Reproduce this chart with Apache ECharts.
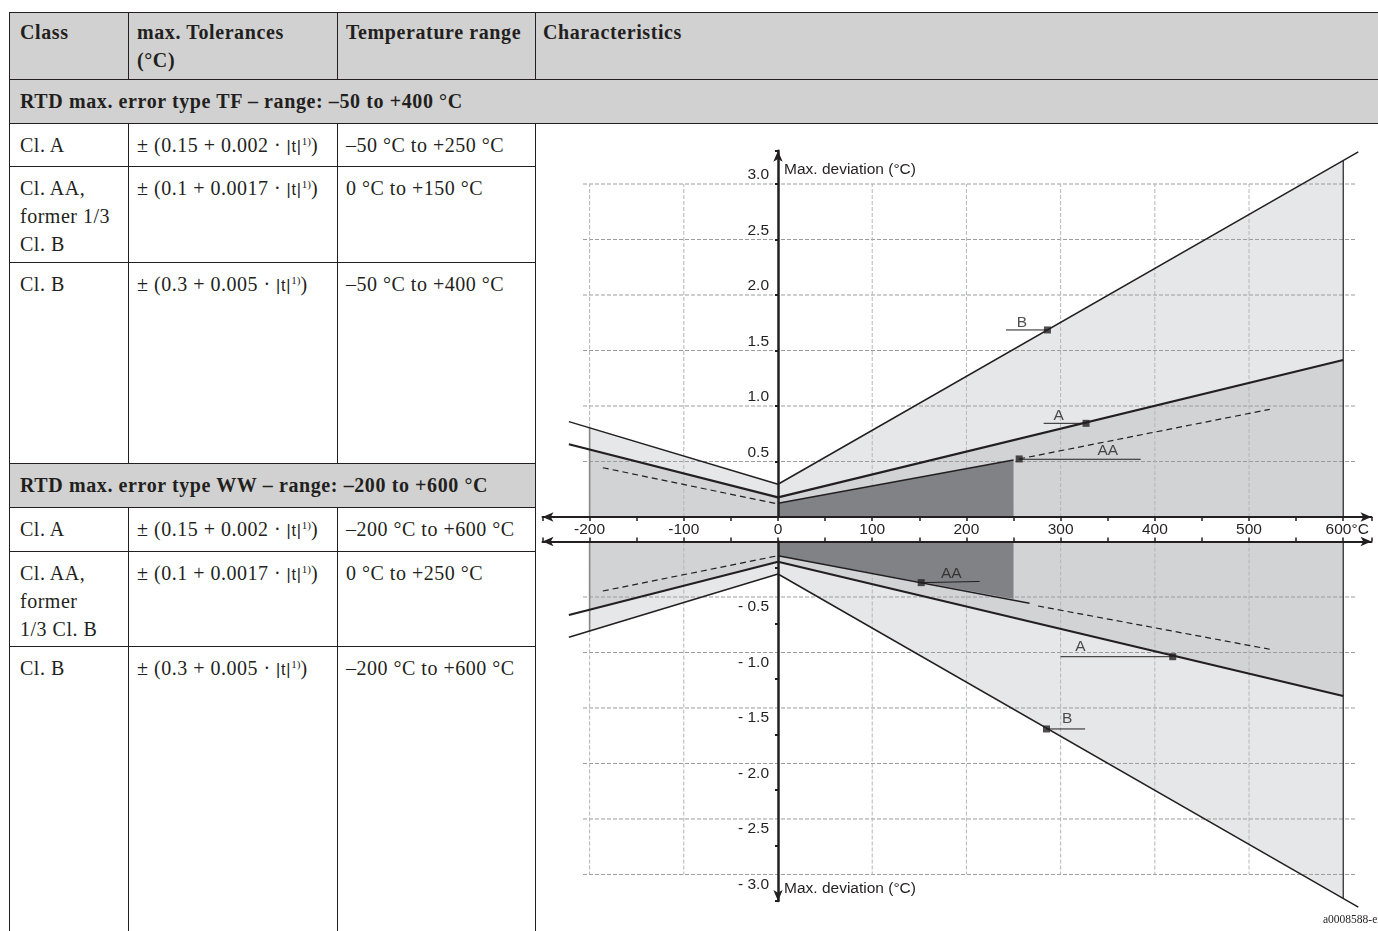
<!DOCTYPE html>
<html><head><meta charset="utf-8">
<script src="https://cdn.jsdelivr.net/npm/echarts@6/dist/echarts.min.js"></script>
<style>
html,body{margin:0;padding:0;background:#fff;width:1378px;height:931px;overflow:hidden;}
#page{position:relative;width:1378px;height:931px;font-family:"Liberation Serif","DejaVu Serif",serif;color:#231f20;overflow:hidden;}
.bg{position:absolute;background:#d1d1d1;}
.hl{position:absolute;height:1px;background:#231f20;}
.vl{position:absolute;width:1px;background:#231f20;}
.t{position:absolute;font-size:20px;line-height:28px;letter-spacing:0.5px;white-space:nowrap;}
.b{font-weight:bold;letter-spacing:0.6px;}
.abs{font-family:"Liberation Sans",Arial,sans-serif;font-size:16px;letter-spacing:0.8px;}
sup{font-size:11px;line-height:0;vertical-align:7px;font-family:"Liberation Serif",serif;letter-spacing:0;}
#chart{position:absolute;left:536px;top:124px;width:842px;height:807px;}
#code{position:absolute;left:1323px;top:913px;font-size:11.5px;font-family:"Liberation Serif",serif;color:#231f20;white-space:nowrap;}
</style></head>
<body><div id="page"><div id="chart"></div><div id="code">a0008588-en</div></div>
<script>
// ---------- table text ----------
const headers = ['Class', 'max. Tolerances<br>(°C)', 'Temperature range', 'Characteristics'];
const sectionTitles = ['RTD max. error type TF – range: –50 to +400 °C', 'RTD max. error type WW – range: –200 to +600 °C'];
const tolA  = '± (0.15 + 0.002 · <span class="abs">|t|</span><sup>1)</sup>)';
const tolAA = '± (0.1 + 0.0017 · <span class="abs">|t|</span><sup>1)</sup>)';
const tolB  = '± (0.3 + 0.005 · <span class="abs">|t|</span><sup>1)</sup>)';
const tfRows = [
  ['Cl. A', tolA, '–50 °C to +250 °C'],
  ['Cl. AA,<br>former 1/3<br>Cl. B', tolAA, '0 °C to +150 °C'],
  ['Cl. B', tolB, '–50 °C to +400 °C']
];
const wwRows = [
  ['Cl. A', tolA, '–200 °C to +600 °C'],
  ['Cl. AA,<br>former<br>1/3 Cl. B', tolAA, '0 °C to +250 °C'],
  ['Cl. B', tolB, '–200 °C to +600 °C']
];

// ---------- chart data (temperature °C, deviation °C) ----------
const xLabelTicks = [-200, -100, 0, 100, 200, 300, 400, 500, 600];
const xGridLines = [-200, -100, 100, 200, 300, 400, 500];
const yGridUpper = [0.5, 1.0, 1.5, 2.0, 2.5, 3.0];
const yGridLower = [-0.5, -1.0, -1.5, -2.0, -2.5, -3.0];

// upper half (positive deviation)
const bLineUp = [[-222, 0.859], [0, 0.295], [616, 3.29]];
const aLineUp = [[-222, 0.655], [0, 0.177], [600, 1.414]];
const aaSolidUp = [[0, 0.123], [250, 0.514]];
const aaDashUp = [[256, 0.523], [522, 0.97]];
const aaDashLeftUp = [[-186, 0.444], [0, 0.117]];
const lightFillUp = [[-200, 0], [-200, 0.808], [0, 0.295], [600, 3.21], [600, 0]];
const mediumFillUp = [[-200, 0], [-200, 0.61], [0, 0.177], [600, 1.414], [600, 0]];
const darkFillUp = [[0, 0], [0, 0.123], [250, 0.514], [250, 0]];
const leftEdgeUp = [[-200, 0], [-200, 0.808]];
const rightEdgeUp = [[600, 0], [600, 3.21]];
const annUp = [
  {name: 'B', marker: [286, 1.685], leader: [[242, 1.685], [286, 1.685]], text: [259, 1.75]},
  {name: 'A', marker: [327, 0.844], leader: [[282, 0.844], [327, 0.844]], text: [298, 0.91]},
  {name: 'AA', marker: [256, 0.523], leader: [[256, 0.52], [385, 0.52]], text: [350, 0.595]}
];

// lower half (negative deviation)
const bLineLo = [[-222, -0.863], [0, -0.293], [616, -3.295]];
const aLineLo = [[-222, -0.662], [0, -0.182], [600, -1.392]];
const aaSolidLo = [[0, -0.128], [267, -0.557]];
const aaDashLo = [[276, -0.581], [522, -0.971]];
const aaDashLeftLo = [[-186, -0.446], [0, -0.128]];
const lightFillLo = [[-200, 0], [-200, -0.813], [0, -0.293], [600, -3.214], [600, 0]];
const mediumFillLo = [[-200, 0], [-200, -0.611], [0, -0.182], [600, -1.392], [600, 0]];
const darkFillLo = [[0, 0], [0, -0.128], [250, -0.518], [250, 0]];
const leftEdgeLo = [[-200, 0], [-200, -0.813]];
const rightEdgeLo = [[600, 0], [600, -3.214]];
const annLo = [
  {name: 'AA', marker: [152, -0.371], leader: [[152, -0.371], [214, -0.36]], text: [184, -0.293]},
  {name: 'A', marker: [419, -1.038], leader: [[300, -1.038], [419, -1.038]], text: [321, -0.948]},
  {name: 'B', marker: [285, -1.689], leader: [[285, -1.689], [326, -1.689]], text: [307, -1.599]}
];

// ---------- build table ----------
const page = document.getElementById('page');
function el(cls, style, html) {
  const d = document.createElement('div');
  d.className = cls;
  Object.assign(d.style, style);
  if (html !== undefined) d.innerHTML = html;
  page.insertBefore(d, document.getElementById('chart'));
  return d;
}
const colX = [9, 128, 337, 535];
const textOff = [11, 9, 9, 8];
const rowTops = {head: 12, tf: 79, tfData: [123, 166, 262], ww: 463, wwData: [507, 551, 646], end: 931};
el('bg', {left: '9px', top: '12px', width: '1369px', height: '67px'});
el('bg', {left: '9px', top: '79px', width: '1369px', height: '44px'});
el('bg', {left: '9px', top: '463px', width: '526px', height: '44px'});
[[12, 1369], [79, 1369], [123, 1369], [166, 526], [262, 526], [463, 526], [507, 526], [551, 526], [646, 526]]
  .forEach(([y, w]) => el('hl', {left: '9px', top: y + 'px', width: w + 'px'}));
el('vl', {left: '9px', top: '12px', height: '919px'});
[128, 337].forEach(x => {
  el('vl', {left: x + 'px', top: '12px', height: '67px'});
  el('vl', {left: x + 'px', top: '123px', height: '340px'});
  el('vl', {left: x + 'px', top: '507px', height: '424px'});
});
el('vl', {left: '535px', top: '12px', height: '67px'});
el('vl', {left: '535px', top: '123px', height: '808px'});
headers.forEach((h, i) => el('t b', {left: (colX[i] + textOff[i]) + 'px', top: (rowTops.head + 6) + 'px'}, h));
el('t b', {left: '20px', top: (rowTops.tf + 8) + 'px'}, sectionTitles[0]);
el('t b', {left: '20px', top: (rowTops.ww + 8) + 'px'}, sectionTitles[1]);
tfRows.forEach((r, ri) => r.forEach((c, ci) => el('t', {left: (colX[ci] + textOff[ci]) + 'px', top: (rowTops.tfData[ri] + 8) + 'px'}, c)));
wwRows.forEach((r, ri) => r.forEach((c, ci) => el('t', {left: (colX[ci] + textOff[ci]) + 'px', top: (rowTops.wwData[ri] + 8) + 'px'}, c)));

// ---------- chart ----------
const FONT = '"Liberation Sans", Arial, sans-serif';
const FS = 15.5;
const INK = '#231f20';
const chart = echarts.init(document.getElementById('chart'));

function polygon(points, gi, color, z) {
  return {
    type: 'custom', xAxisIndex: gi, yAxisIndex: gi, z: z, silent: true, clip: false,
    data: points,
    renderItem: (params, api) => {
      if (params.dataIndex !== 0) return null;
      return {type: 'polygon', shape: {points: points.map(p => api.coord(p))}, style: {fill: color}};
    }
  };
}
function gridLines(yVals, yEnd, gi) {
  const items = yVals.map(v => ['h', v]).concat(xGridLines.map(v => ['v', v]));
  return {
    type: 'custom', xAxisIndex: gi, yAxisIndex: gi, z: 3, silent: true, clip: false,
    data: items.map((it, i) => [i, 0]),
    renderItem: (params, api) => {
      const it = items[params.dataIndex];
      let a, b;
      if (it[0] === 'h') { a = api.coord([-207, it[1]]); b = api.coord([614, it[1]]); }
      else { a = api.coord([it[1], 0]); b = api.coord([it[1], yEnd]); }
      return {type: 'line', shape: {x1: a[0], y1: a[1], x2: b[0], y2: b[1]},
        style: {stroke: it[0] === 'h' ? '#9a9c9f' : '#b4b6b9', lineWidth: 1, lineDash: [4, 2]}};
    }
  };
}
function yLabels(vals, gi, fmt, dy) {
  return {
    type: 'custom', xAxisIndex: gi, yAxisIndex: gi, z: 11, silent: true, clip: false,
    data: vals.map(v => [0, v]),
    renderItem: (params, api) => {
      const p = api.coord([0, api.value(1)]);
      return {type: 'text', x: p[0] - 9, y: p[1] + dy,
        style: {text: fmt(api.value(1)), fontFamily: FONT, fontSize: FS, fill: INK,
          align: 'right', verticalAlign: 'middle'}};
    }
  };
}
function line(data, gi, opts) {
  return {
    type: 'line', xAxisIndex: gi, yAxisIndex: gi, data: data, showSymbol: false, silent: true,
    clip: false, z: opts.z || 6, animation: false,
    lineStyle: {color: opts.color || INK, width: opts.width || 1.4, type: opts.type || 'solid'}
  };
}
function half(gi, d) {
  const s = [];
  s.push(polygon(d.light, gi, '#e6e7e8', 1));
  s.push(polygon(d.medium, gi, '#d1d3d4', 2));
  s.push(gridLines(d.gridY, d.gridEnd, gi));
  s.push(polygon(d.dark, gi, '#808285', 4));
  s.push(line(d.leftEdge, gi, {color: '#86888b', width: 1.6, z: 5}));
  s.push(line(d.rightEdge, gi, {color: INK, width: 1.2, z: 5}));
  s.push(line(d.b, gi, {width: 1.5}));
  s.push(line(d.a, gi, {width: 2.2}));
  s.push(line(d.aaSolid, gi, {width: 1.5}));
  s.push(line(d.aaDash, gi, {width: 1.2, type: [6, 4]}));
  s.push(line(d.aaDashLeft, gi, {width: 1.2, type: [6, 4]}));
  d.ann.forEach(an => s.push(line(an.leader, gi, {width: 1, z: 6})));
  s.push({
    type: 'scatter', xAxisIndex: gi, yAxisIndex: gi, z: 7, silent: true,
    symbol: 'rect', symbolSize: 7, itemStyle: {color: INK},
    data: d.ann.map(an => an.marker)
  });
  s.push({
    type: 'scatter', xAxisIndex: gi, yAxisIndex: gi, z: 8, silent: true,
    symbolSize: 0,
    data: d.ann.map(an => ({name: an.name, value: an.text})),
    label: {show: true, position: 'inside', formatter: p => p.name,
      fontFamily: FONT, fontSize: FS, color: INK}
  });
  s.push(yLabels(d.gridY, gi, d.fmt, d.dy));
  return s;
}

const xAxisCommon = {
  type: 'value', min: -250, max: 630, interval: 50, z: 10,
  splitLine: {show: false},
  axisLine: {show: true, symbol: ['arrow', 'arrow'], symbolSize: [7, 11],
    lineStyle: {color: INK, width: 2}},
  axisTick: {show: true, length: 4, lineStyle: {color: INK, width: 1.5}}
};
const yAxisCommon = {
  type: 'value', interval: 0.5, z: 10,
  splitLine: {show: false},
  axisTick: {show: true, length: 3, lineStyle: {color: INK, width: 2}},
  axisLabel: {show: false}
};

const option = {
  animation: false,
  backgroundColor: 'transparent',
  textStyle: {fontFamily: FONT},
  grid: [
    {left: 6.5, right: 6.5, top: 26.7, bottom: 414, containLabel: false, outerBoundsMode: 'none'},
    {left: 6.5, right: 6.5, top: 417.5, bottom: 29.9, containLabel: false, outerBoundsMode: 'none'}
  ],
  xAxis: [
    Object.assign({}, xAxisCommon, {
      gridIndex: 0, position: 'bottom',
      axisLabel: {
        show: true, margin: 5, fontFamily: FONT, fontSize: FS, color: INK, hideOverlap: false,
        formatter: v => xLabelTicks.indexOf(v) < 0 ? '' : (v === 600 ? '{u|600°C}' : String(v)),
        rich: {u: {fontFamily: FONT, fontSize: FS, color: INK, padding: [0, 0, 0, 8]}}
      }
    }),
    Object.assign({}, xAxisCommon, {gridIndex: 1, position: 'top', axisLabel: {show: false}})
  ],
  yAxis: [
    Object.assign({}, yAxisCommon, {
      gridIndex: 0, min: 0, max: 3.3,
      axisLine: {show: true, onZero: true, symbol: ['none', 'arrow'], symbolSize: [7, 11],
        lineStyle: {color: INK, width: 2.5}},
      name: 'Max. deviation (°C)', nameLocation: 'end', nameGap: -19,
      nameTextStyle: {fontFamily: FONT, fontSize: FS, color: INK, align: 'left',
        verticalAlign: 'middle', padding: [0, 0, 0, 6]}
    }),
    Object.assign({}, yAxisCommon, {
      gridIndex: 1, min: -3.24, max: 0,
      axisLine: {show: true, onZero: true, symbol: ['arrow', 'none'], symbolSize: [7, 11],
        lineStyle: {color: INK, width: 2.5}},
      name: 'Max. deviation (°C)', nameLocation: 'start', nameGap: -12,
      nameTextStyle: {fontFamily: FONT, fontSize: FS, color: INK, align: 'left',
        verticalAlign: 'middle', padding: [0, 0, 0, 6]}
    })
  ],
  series: [].concat(
    half(0, {light: lightFillUp, medium: mediumFillUp, dark: darkFillUp, gridY: yGridUpper, gridEnd: 3.0,
      leftEdge: leftEdgeUp, rightEdge: rightEdgeUp, b: bLineUp, a: aLineUp, aaSolid: aaSolidUp,
      aaDash: aaDashUp, aaDashLeft: aaDashLeftUp, ann: annUp,
      fmt: v => v.toFixed(1), dy: -9}),
    half(1, {light: lightFillLo, medium: mediumFillLo, dark: darkFillLo, gridY: yGridLower, gridEnd: -3.0,
      leftEdge: leftEdgeLo, rightEdge: rightEdgeLo, b: bLineLo, a: aLineLo, aaSolid: aaSolidLo,
      aaDash: aaDashLo, aaDashLeft: aaDashLeftLo, ann: annLo,
      fmt: v => '- ' + Math.abs(v).toFixed(1), dy: 10})
  )
};
chart.setOption(option);
</script>
</body></html>
